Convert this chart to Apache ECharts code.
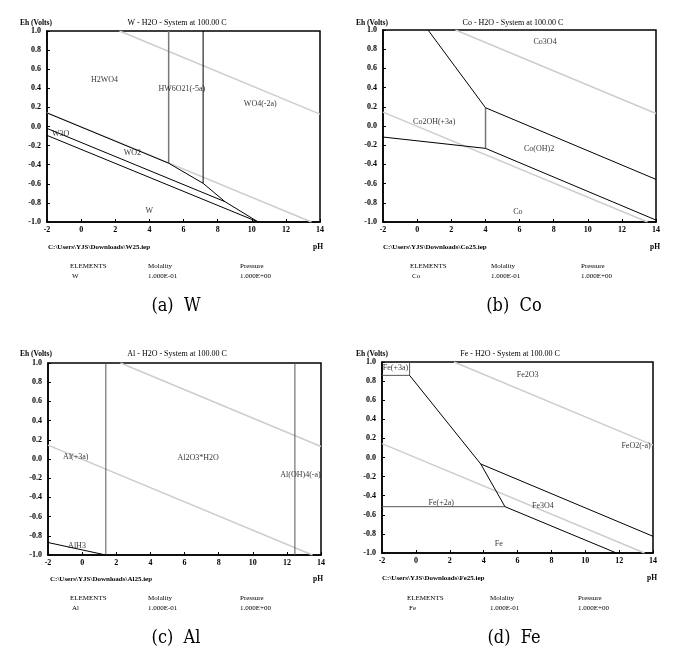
<!DOCTYPE html>
<html><head><meta charset="utf-8">
<script src="https://cdn.jsdelivr.net/npm/echarts@6/dist/echarts.min.js"></script>
<style>html,body{margin:0;padding:0;background:#fff}#c{width:683px;height:658px}</style>
</head><body><div id="c"></div>
<script>
// ---- shared water stability lines ----
const waterO2 = [[2.25, 1.0], [14, 0.13]];
const waterH2 = [[-2, 0.145], [13.5, -1.0]];

// ---- (a) W ----
const wMain = [[-2, 0.142], [5.13, -0.384], [7.15, -0.595], [8.43, -0.787], [10.38, -1.0]];
const wW3OUpper = [[-2, -0.02], [8.43, -0.787]];
const wW3OLower = [[-2, -0.093], [10.38, -1.0]];
const wVert1 = [[5.13, -0.384], [5.13, 1.0]];
const wVert2 = [[7.15, -0.595], [7.15, 1.0]];
const wLabels = [[1.37, 0.49, 'H2WO4'], [5.9, 0.39, 'HW6O21(-5a)'], [10.5, 0.235, 'WO4(-2a)'], [-1.2, -0.08, 'W3O'], [3.0, -0.28, 'WO2'], [4.0, -0.886, 'W']];

// ---- (b) Co ----
const coUpper = [[0.64, 1.0], [4.01, 0.19], [14, -0.556]];
const coVert = [[4.01, 0.19], [4.01, -0.233]];
const coLower = [[-2, -0.115], [4.01, -0.233], [14, -0.98]];
const coLabels = [[7.5, 0.875, 'Co3O4'], [1.0, 0.045, 'Co2OH(+3a)'], [7.15, -0.243, 'Co(OH)2'], [5.9, -0.9, 'Co']];

// ---- (c) Al ----
const alVert1 = [[1.39, -1.0], [1.39, 1.0]];
const alVert2 = [[12.47, -1.0], [12.47, 1.0]];
const alHydride = [[-2, -0.87], [1.39, -1.0]];
const alLabels = [[-0.37, 0.026, 'Al(+3a)'], [6.8, 0.015, 'Al2O3*H2O'], [12.8, -0.17, 'Al(OH)4(-a)'], [-0.3, -0.905, 'AlH3']];

// ---- (d) Fe ----
const feBoxH = [[-2, 0.86], [-0.37, 0.86]];
const feBoxV = [[-0.37, 0.86], [-0.37, 1.0]];
const feDiag = [[-0.37, 0.86], [3.83, -0.068], [5.26, -0.515]];
const feFe2 = [[-2, -0.515], [5.26, -0.515]];
const feOxide = [[3.83, -0.068], [14, -0.825]];
const feFe = [[5.26, -0.515], [11.84, -1.0]];
const feLabels = [[-1.2, 0.94, 'Fe(+3a)'], [6.6, 0.86, 'Fe2O3'], [13.0, 0.117, 'FeO2(-a)'], [1.5, -0.48, 'Fe(+2a)'], [7.5, -0.51, 'Fe3O4'], [4.9, -0.9, 'Fe']];

const titles = ['W - H2O - System at 100.00 C', 'Co - H2O - System at 100.00 C', 'Al - H2O - System at 100.00 C', 'Fe - H2O - System at 100.00 C'];
const paths = ['C:\\Users\\YJS\\Downloads\\W25.iep', 'C:\\Users\\YJS\\Downloads\\Co25.iep', 'C:\\Users\\YJS\\Downloads\\Al25.iep', 'C:\\Users\\YJS\\Downloads\\Fe25.iep'];
const elements = ['W', 'Co', 'Al', 'Fe'];
const captions = ['(a)  W', '(b)  Co', '(c)  Al', '(d)  Fe'];
const molality = '1.000E-01';
const pressure = '1.000E+00';

const grids = [
  {left: 47, top: 31, width: 273, height: 191},
  {left: 383, top: 30, width: 273, height: 192},
  {left: 48, top: 363, width: 273, height: 192},
  {left: 382, top: 362, width: 271, height: 191}
];

const SERIF = '"Liberation Serif","DejaVu Serif",serif';
const chart = echarts.init(document.getElementById('c'), null, {renderer: 'canvas'});

const xAxes = [], yAxes = [], series = [];
grids.forEach((g, i) => {
  xAxes.push({gridIndex: i, type: 'value', min: -2, max: 14, interval: 2,
    axisLine: {show: true, onZero: false, lineStyle: {color: '#000', width: 1.5}},
    axisTick: {show: true, inside: true, length: 3, lineStyle: {color: '#000'}},
    splitLine: {show: false},
    axisLabel: {fontFamily: SERIF, fontWeight: 'bold', fontSize: 8, color: '#000', margin: 4}});
  yAxes.push({gridIndex: i, type: 'value', min: -1, max: 1, interval: 0.2,
    axisLine: {show: true, onZero: false, lineStyle: {color: '#000', width: 1.5}},
    axisTick: {show: true, inside: true, length: 3, lineStyle: {color: '#000'}},
    splitLine: {show: false},
    axisLabel: {fontFamily: SERIF, fontWeight: 'bold', fontSize: 8, color: '#000', margin: 6,
      formatter: v => (Math.abs(v) < 1e-9 ? '0.0' : v.toFixed(1))}});
});

function line(i, data, color, width) {
  series.push({type: 'line', xAxisIndex: i, yAxisIndex: i, data: data, showSymbol: false,
    symbol: 'none', silent: true, animation: false, z: color === '#000' ? 3 : 2,
    lineStyle: {color: color, width: width}});
}
function labels(i, data) {
  series.push({type: 'scatter', xAxisIndex: i, yAxisIndex: i, symbolSize: 0, silent: true, animation: false, z: 4,
    data: data.map(d => ({value: [d[0], d[1]], name: d[2]})),
    label: {show: true, position: 'inside', formatter: p => p.name, fontFamily: SERIF, fontSize: 8, color: '#000'}});
}

const GRAY = '#cdcdcd', BLK = '#000', MID = '#777';
for (let i = 0; i < 4; i++) {
  line(i, waterO2, GRAY, 1.5);
  line(i, waterH2, GRAY, 1.5);
}
// W
line(0, wMain, BLK, 1); line(0, wW3OUpper, BLK, 1); line(0, wW3OLower, BLK, 1);
line(0, wVert1, MID, 1.5); line(0, wVert2, BLK, 1);
labels(0, wLabels);
// Co
line(1, coUpper, BLK, 1); line(1, coVert, MID, 1.5); line(1, coLower, BLK, 1);
labels(1, coLabels);
// Al
line(2, alVert1, '#555', 1); line(2, alVert2, '#555', 1); line(2, alHydride, BLK, 1);
labels(2, alLabels);
// Fe
line(3, feBoxH, '#555', 1); line(3, feBoxV, '#555', 1); line(3, feDiag, BLK, 1);
line(3, feFe2, '#555', 1); line(3, feOxide, BLK, 1); line(3, feFe, BLK, 1);
labels(3, feLabels);

// text graphics
const graphic = [];
function txt(x, y, s, size, opts) {
  graphic.push(Object.assign({type: 'text', x: x, y: y, silent: true,
    style: Object.assign({text: s, fontFamily: SERIF, fontSize: size, fill: '#000', textAlign: 'left', textVerticalAlign: 'middle'}, opts || {})}));
}
const titleCx = [177, 513, 177, 510];
const titleY = [23, 23, 354, 354];
const ehX = [20, 356, 20, 356];
const pathX = [48, 383, 50, 382];
const pathY = [247, 247, 579, 578];
const phX = [318, 655, 318, 652];
const tblX = [[70, 148, 240], [410, 491, 581], [70, 148, 240], [407, 490, 578]];
const tblY = [266, 266, 598, 598];
const capCx = [176, 514, 176, 514];
const capY = [306, 306, 638, 638];
for (let i = 0; i < 4; i++) {
  txt(titleCx[i], titleY[i], titles[i], 8, {textAlign: 'center'});
  txt(ehX[i], titleY[i], 'Eh (Volts)', 7.5, {fontWeight: 'bold'});
  txt(pathX[i], pathY[i], paths[i], 7, {fontWeight: 'bold'});
  txt(phX[i], pathY[i], 'pH', 7.5, {fontWeight: 'bold', textAlign: 'center'});
  txt(tblX[i][0], tblY[i], 'ELEMENTS', 7);
  txt(tblX[i][0] + 2, tblY[i] + 10, elements[i], 7);
  txt(tblX[i][1], tblY[i], 'Molality', 7);
  txt(tblX[i][1], tblY[i] + 10, molality, 7);
  txt(tblX[i][2], tblY[i], 'Pressure', 7);
  txt(tblX[i][2], tblY[i] + 10, pressure, 7);
  txt(capCx[i], capY[i], captions[i], 18, {textAlign: 'center', fontFamily: '"DejaVu Serif Condensed","Liberation Serif",serif'});
}

chart.setOption({
  animation: false,
  backgroundColor: '#fff',
  grid: grids.map(g => Object.assign({show: true, borderColor: '#000', borderWidth: 1.5, containLabel: false}, g)),
  xAxis: xAxes,
  yAxis: yAxes,
  series: series,
  graphic: graphic
});
</script>
</body></html>
